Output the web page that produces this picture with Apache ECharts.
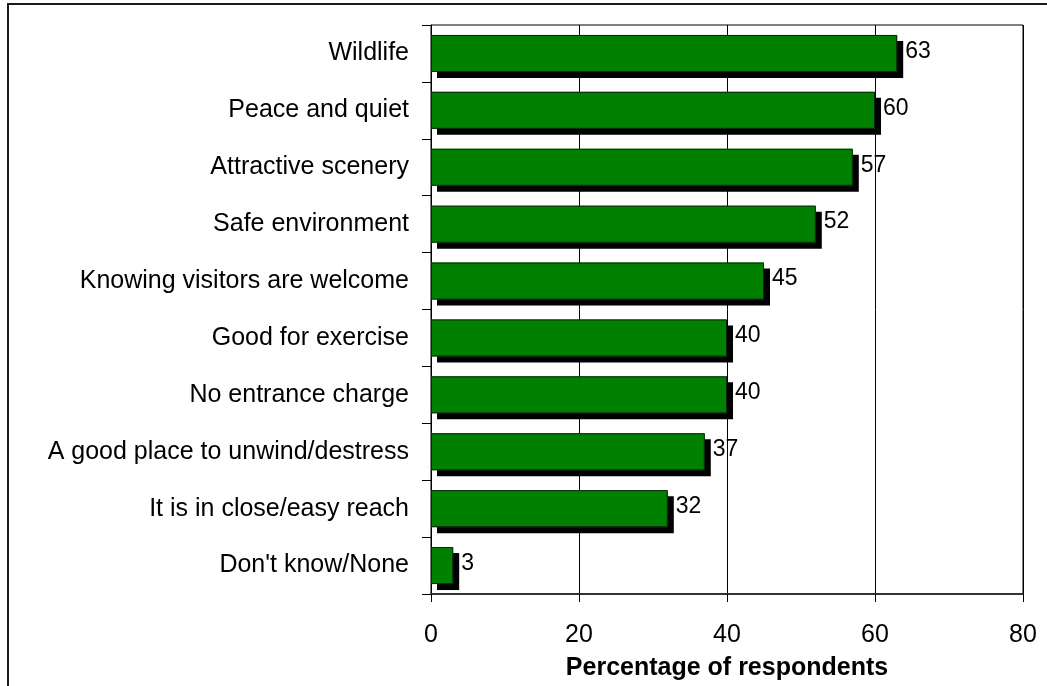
<!DOCTYPE html>
<html>
<head>
<meta charset="utf-8">
<script src="https://cdn.jsdelivr.net/npm/echarts@6/dist/echarts.min.js"></script>
<style>
html,body{margin:0;padding:0;background:#fff;}
#chart{width:1047px;height:686px;}
</style>
</head>
<body>
<div id="chart"></div>
<script>
const categories = [
  "Wildlife",
  "Peace and quiet",
  "Attractive scenery",
  "Safe environment",
  "Knowing visitors are welcome",
  "Good for exercise",
  "No entrance charge",
  "A good place to unwind/destress",
  "It is in close/easy reach",
  "Don't know/None"
];
const values = [63, 60, 57, 52, 45, 40, 40, 37, 32, 3];
const xTicks = [0, 20, 40, 60, 80];
const axisTitle = "Percentage of respondents";

const FONT = "'Liberation Sans', Arial, sans-serif";
const chart = echarts.init(document.getElementById('chart'), null, {renderer: 'canvas'});
chart.setOption({
  animation: false,
  backgroundColor: '#fff',
  graphic: [{
    type: 'rect',
    shape: {x: 8, y: 4, width: 1100, height: 800},
    style: {fill: 'none', stroke: '#1a1a1a', lineWidth: 2},
    silent: true, z: 100
  }],
  grid: {
    left: 431, right: 24, top: 25, bottom: 92,
    show: true, borderColor: '#000', borderWidth: 1, backgroundColor: 'transparent'
  },
  xAxis: {
    type: 'value',
    min: xTicks[0], max: xTicks[xTicks.length - 1], interval: 20,
    axisLine: {show: true, lineStyle: {color: '#333', width: 2}},
    axisTick: {show: true, length: 8, lineStyle: {color: '#000'}},
    splitLine: {show: true, lineStyle: {color: '#000', width: 1}},
    axisLabel: {fontFamily: FONT, fontSize: 25, color: '#000', margin: 29},
    name: axisTitle,
    nameLocation: 'middle',
    nameGap: 62,
    nameTextStyle: {fontFamily: FONT, fontSize: 25, fontWeight: 'bold', color: '#000'}
  },
  yAxis: {
    type: 'category',
    data: categories,
    inverse: true,
    axisLine: {show: true, lineStyle: {color: '#000', width: 1}},
    axisTick: {show: true, length: 9, lineStyle: {color: '#000'}},
    axisLabel: {fontFamily: FONT, fontSize: 25, color: '#000', margin: 22}
  },
  series: [{
    type: 'bar',
    data: values,
    barWidth: 37,
    itemStyle: {
      color: '#008000',
      borderWidth: 0,
      shadowColor: '#000',
      shadowBlur: 0,
      shadowOffsetX: 6,
      shadowOffsetY: 6
    },
    label: {
      show: true,
      position: 'right',
      distance: 8,
      offset: [0, -2],
      fontFamily: FONT,
      fontSize: 23,
      color: '#000'
    }
  }, {
    type: 'bar',
    data: values,
    barWidth: 37,
    barGap: '-100%',
    silent: true,
    itemStyle: {
      color: 'rgba(0,0,0,0)',
      borderColor: '#0b260b',
      borderWidth: 1
    }
  }]
});
</script>
</body>
</html>
